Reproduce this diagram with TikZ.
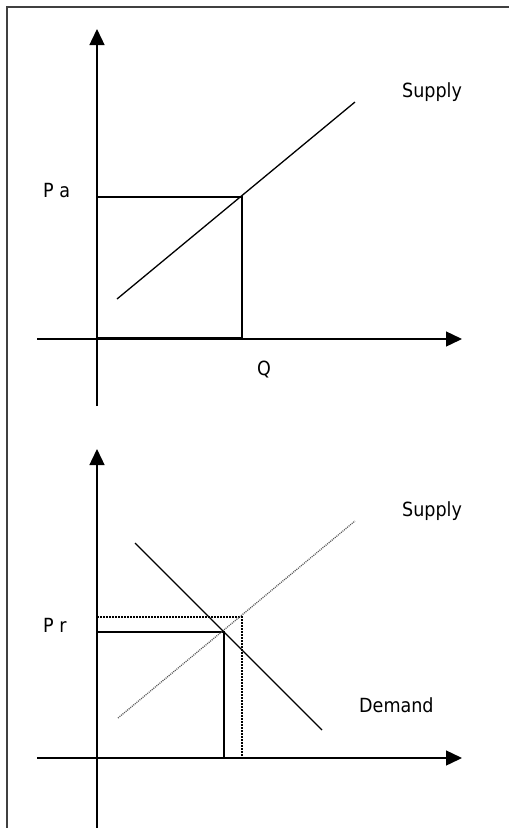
\documentclass[tikz,border=0pt]{standalone}
\usepackage{fontspec}
\setmainfont{DejaVu Sans Condensed}
\usetikzlibrary{arrows.meta}
\tikzset{
  axis/.style={line width=1.4pt,-{Triangle[length=16pt,width=15pt]}},
  curve/.style={line width=1.3pt},
  dotcurve/.style={line width=1.3pt,black!65,dash pattern=on 1pt off 1pt},
  dotbox/.style={line width=1.8pt,dash pattern=on 2pt off 1pt},
  lbl/.style={anchor=base west,inner sep=0pt,font=\fontsize{19.5}{22}\selectfont},
  frame/.style={line width=1.5pt,black!75}
}
\begin{document}
\begin{tikzpicture}[x=1pt,y=-1pt]
\useasboundingbox (0,0) rectangle (509,828);
\coordinate (fb) at (7,828);
\coordinate (fc) at (7,7);
\coordinate (fr) at (509,7);
\draw[frame] (fb) -- (fc) -- (fr);
% top graph
\coordinate (ay0) at (97,406);
\coordinate (ay1) at (97,29);
\coordinate (ax0) at (37,339);
\coordinate (ax1) at (462,339);
\coordinate (abl) at (97,338);
\coordinate (atr) at (242,197);
\coordinate (as0) at (117,299);
\coordinate (as1) at (355,102);
\draw[curve] (abl) rectangle (atr);
\draw[axis] (ay0) -- (ay1);
\draw[axis] (ax0) -- (ax1);
\draw[curve] (as0) -- (as1);
\node[lbl] (asup) at (402,97) {Supply};
\node[lbl] (apa) at (43,197) {P a};
\node[lbl] (aq) at (257,375) {Q};
% bottom graph
\coordinate (by0) at (97,828);
\coordinate (by1) at (97,449);
\coordinate (bx0) at (37,758);
\coordinate (bx1) at (462,758);
\coordinate (bbl) at (97,758);
\coordinate (btr) at (224,632);
\coordinate (bdtr) at (242,617);
\coordinate (bs0) at (118,718);
\coordinate (bs1) at (355,521);
\coordinate (bd0) at (135,543);
\coordinate (bd1) at (322,730);
\draw[dotbox] (bbl) rectangle (bdtr);
\draw[curve] (bbl) rectangle (btr);
\draw[axis] (by0) -- (by1);
\draw[axis] (bx0) -- (bx1);
\draw[dotcurve] (bs0) -- (bs1);
\draw[curve] (bd0) -- (bd1);
\node[lbl] (bsup) at (402,516) {Supply};
\node[lbl] (bpr) at (43,632) {P r};
\node[lbl] (bdem) at (359,712) {Demand};
\end{tikzpicture}
\end{document}
